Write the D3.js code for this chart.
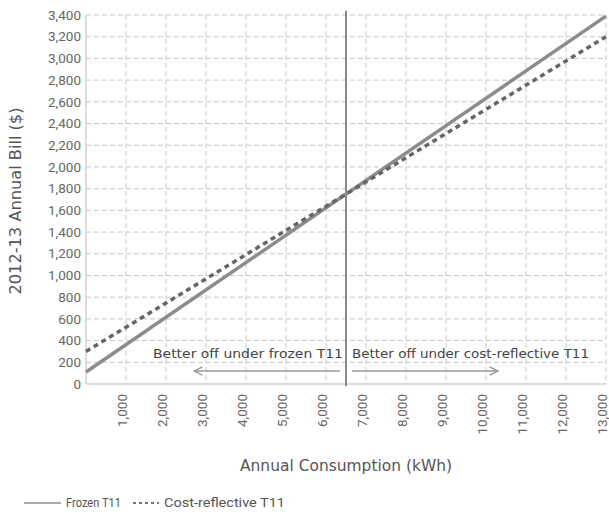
<!DOCTYPE html>
<html><head><meta charset="utf-8">
<script src="https://cdn.jsdelivr.net/npm/d3@7"></script>
<style>body{margin:0;background:#fff}svg{display:block}</style>
</head><body>
<svg id="c" width="609" height="513"></svg>
<script>
const consumption = [0, 13000];
const frozenT11 = [110, 3390];
const costReflectiveT11 = [300, 3200];
const xTicks = [1000,2000,3000,4000,5000,6000,7000,8000,9000,10000,11000,12000,13000];
const yTicks = [0,200,400,600,800,1000,1200,1400,1600,1800,2000,2200,2400,2600,2800,3000,3200,3400];
const crossover = 6500;
const seriesNames = ["Frozen T11", "Cost-reflective T11"];
const annotations = ["Better off under frozen T11", "Better off under cost-reflective T11"];

const svg = d3.select("#c");
const font = "Roboto, 'Open Sans', sans-serif";
const wide = "'DejaVu Sans', sans-serif";
const x = d3.scaleLinear().domain([0,13000]).range([86,606]);
const y = d3.scaleLinear().domain([0,3400]).range([384,15]);

svg.append("defs").append("marker").attr("id","ah").attr("viewBox","0 0 10 10")
  .attr("refX",9).attr("refY",5).attr("markerWidth",7).attr("markerHeight",7).attr("orient","auto-start-reverse")
  .append("path").attr("d","M1,1 L9,5 L1,9").attr("fill","none").attr("stroke","#999").attr("stroke-width",1.4);

// gridlines
const g = svg.append("g");
g.selectAll(".hg").data(yTicks.filter(d=>d>0)).join("line")
  .attr("x1",x(0)).attr("x2",x(13000)).attr("y1",d=>y(d)).attr("y2",d=>y(d))
  .attr("stroke","#c8c8c8").attr("stroke-width",1).attr("stroke-dasharray","5,3");
g.selectAll(".vg").data(xTicks).join("line")
  .attr("x1",d=>x(d)).attr("x2",d=>x(d)).attr("y1",y(3400)).attr("y2",y(0))
  .attr("stroke","#c8c8c8").attr("stroke-width",1).attr("stroke-dasharray","5,3");
g.append("line").attr("x1",x(0)).attr("x2",x(0)).attr("y1",y(3400)).attr("y2",y(0)).attr("stroke","#bbb");
g.append("line").attr("x1",x(0)).attr("x2",x(13000)).attr("y1",y(0)).attr("y2",y(0)).attr("stroke","#bbb");

// y labels
svg.selectAll(".yl").data(yTicks).join("text")
  .attr("x",81).attr("y",d=>y(d)).attr("dy","0.35em").attr("text-anchor","end")
  .attr("font-family",font).attr("font-size",13.5).attr("fill","#666")
  .text(d=>d3.format(",")(d));
// x labels
svg.selectAll(".xl").data(xTicks).join("text")
  .attr("transform",d=>`translate(${x(d)-4},394) rotate(-90)`).attr("dy","0.35em").attr("text-anchor","end")
  .attr("font-family",font).attr("font-size",13.5).attr("fill","#666")
  .text(d=>d3.format(",")(d));

// axis titles
svg.append("text").attr("transform","translate(16,201) rotate(-90)").attr("text-anchor","middle").attr("dy","0.35em")
  .attr("font-family",wide).attr("font-size",15).attr("fill","#555")
  .attr("textLength",187).attr("lengthAdjust","spacingAndGlyphs").text("2012-13 Annual Bill ($)");
svg.append("text").attr("x",346).attr("y",471).attr("text-anchor","middle")
  .attr("font-family",wide).attr("font-size",15.5).attr("fill","#555")
  .attr("textLength",212).attr("lengthAdjust","spacingAndGlyphs").text("Annual Consumption (kWh)");

// crossover vertical line
svg.append("line").attr("x1",x(crossover)).attr("x2",x(crossover)).attr("y1",y(3400)-4).attr("y2",y(0)+2)
  .attr("stroke","#888").attr("stroke-width",2);

// annotations
svg.append("text").attr("x",x(crossover)-3).attr("y",358).attr("text-anchor","end")
  .attr("font-family",wide).attr("font-size",13).attr("fill","#444")
  .attr("textLength",190).attr("lengthAdjust","spacingAndGlyphs").text(annotations[0]);
svg.append("text").attr("x",x(crossover)+6).attr("y",358).attr("text-anchor","start")
  .attr("font-family",wide).attr("font-size",13).attr("fill","#444")
  .attr("textLength",237).attr("lengthAdjust","spacingAndGlyphs").text(annotations[1]);
svg.append("line").attr("x1",x(crossover)-6).attr("x2",x(2700)).attr("y1",371).attr("y2",371)
  .attr("stroke","#999").attr("stroke-width",1.5).attr("marker-end","url(#ah)");
svg.append("line").attr("x1",x(crossover)+6).attr("x2",x(10300)).attr("y1",371).attr("y2",371)
  .attr("stroke","#999").attr("stroke-width",1.5).attr("marker-end","url(#ah)");

// series
const line = d3.line().x(d=>x(d[0])).y(d=>y(d[1]));
svg.append("path").datum(consumption.map((c,i)=>[c,frozenT11[i]])).attr("d",line)
  .attr("fill","none").attr("stroke","#8c8c8c").attr("stroke-width",3.5);
svg.append("path").datum(consumption.map((c,i)=>[c,costReflectiveT11[i]])).attr("d",line)
  .attr("fill","none").attr("stroke","#666").attr("stroke-width",3.5).attr("stroke-dasharray","5,4");

// legend
const lg = svg.append("g").attr("font-family",font).attr("font-size",12).attr("fill","#555");
lg.append("line").attr("x1",24).attr("x2",61).attr("y1",503).attr("y2",503).attr("stroke","#8c8c8c").attr("stroke-width",1.5);
lg.append("text").attr("x",66).attr("y",507).attr("textLength",55).attr("lengthAdjust","spacingAndGlyphs").text(seriesNames[0]);
lg.append("line").attr("x1",133).attr("x2",159).attr("y1",503).attr("y2",503).attr("stroke","#777").attr("stroke-width",2).attr("stroke-dasharray","3,3");
lg.append("text").attr("x",164).attr("y",507).attr("textLength",121).attr("lengthAdjust","spacingAndGlyphs").text(seriesNames[1]);
</script>
</body></html>
